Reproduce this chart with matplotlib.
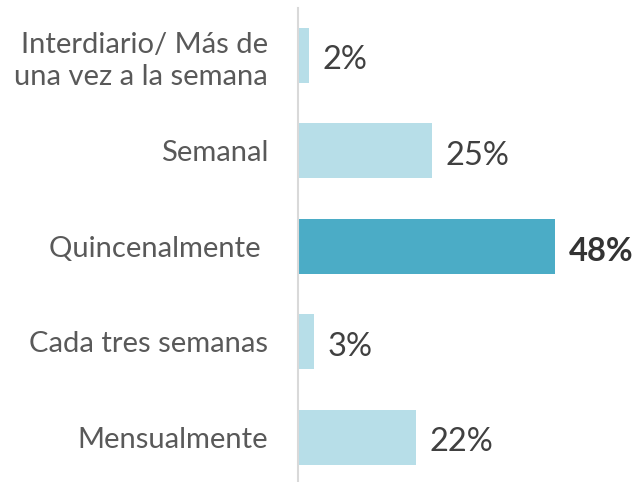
import matplotlib.pyplot as plt

categories = ['Interdiario/ Más de\nuna vez a la semana', 'Semanal', 'Quincenalmente ',
              'Cada tres semanas', 'Mensualmente']
values = [2, 25, 48, 3, 22]
labels = ['2%', '25%', '48%', '3%', '22%']
highlight = 2

plt.rcParams['font.family'] = ['Lato', 'DejaVu Sans']

fig = plt.figure(figsize=(6.4, 4.82), dpi=100)
ax = fig.add_axes([298 / 640, 0, 342 / 640, 1 - 8 / 482])

pos = list(range(len(categories)))
colors = ['#4BACC6' if i == highlight else '#B7DEE8' for i in pos]
ax.barh(pos, values, height=0.577, color=colors)

for i, (v, lab) in enumerate(zip(values, labels)):
    bold = i == highlight
    ax.text(v + 2.6, i + 0.05, lab, va='center', ha='left', fontsize=23.5,
            color='#333333' if bold else '#404040',
            fontweight='bold' if bold else 'normal')

ax.set_xlim(0, 64)
ax.set_ylim(4.47, -0.498)
ax.set_yticks(pos)
ax.set_yticklabels(categories, fontsize=21, color='#595959', linespacing=1.3)
ax.tick_params(axis='y', length=0, pad=21.5)
ax.set_xticks([])
for s in ['top', 'right', 'bottom']:
    ax.spines[s].set_visible(False)
ax.spines['left'].set_color('#D9D9D9')
ax.spines['left'].set_linewidth(1.5)

fig.savefig('out.png', dpi=100)
